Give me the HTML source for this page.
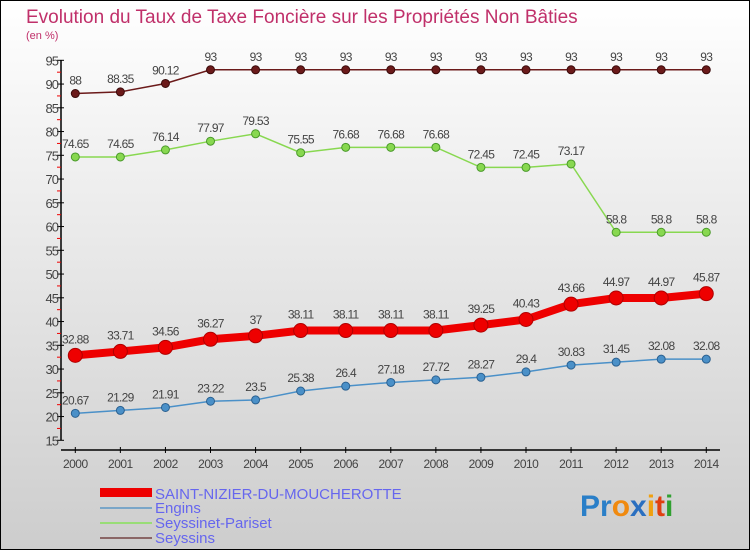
<!DOCTYPE html>
<html><head><meta charset="utf-8"><style>
body{margin:0}
#c{width:750px;height:550px;position:relative;overflow:hidden;font-family:"Liberation Sans",sans-serif}
</style></head><body>
<div id="c">
<svg id="s" width="750" height="550" xmlns="http://www.w3.org/2000/svg">
<defs><linearGradient id="bg" x1="0" y1="0" x2="0" y2="1"><stop offset="0" stop-color="#ffffff"/><stop offset="1" stop-color="#cdcdcd"/></linearGradient></defs>
<rect x="0.5" y="0.5" width="749" height="549" fill="url(#bg)" stroke="#000"/>
<text x="26" y="23" font-size="19" fill="#c0306a">Evolution du Taux de Taxe Foncière sur les Propriétés Non Bâties</text>
<text x="26" y="39" font-size="11" fill="#c0306a">(en %)</text>
<g id="axes"></g><g id="series"></g>
<g>
<rect x="100" y="488" width="52" height="9" fill="#ee0000"/>
<line x1="100" y1="508" x2="152" y2="508" stroke="#7aa6c8" stroke-width="2"/>
<line x1="100" y1="523" x2="152" y2="523" stroke="#99dd77" stroke-width="2"/>
<line x1="100" y1="538" x2="152" y2="538" stroke="#8a6666" stroke-width="2"/>
<text x="155" y="499" font-size="15" fill="#6666ee">SAINT-NIZIER-DU-MOUCHEROTTE</text>
<text x="155" y="513" font-size="15" fill="#6666ee">Engins</text>
<text x="155" y="528" font-size="15" fill="#6666ee">Seyssinet-Pariset</text>
<text x="155" y="543" font-size="15" fill="#6666ee">Seyssins</text>
</g>
<g font-size="30" font-weight="bold">
<text x="580" y="516"><tspan fill="#2a7fc8">Pr</tspan><tspan fill="#f08a10">o</tspan><tspan fill="#2a6fc0">x</tspan><tspan fill="#f0a010">i</tspan><tspan fill="#e04010">t</tspan><tspan fill="#30a030">i</tspan></text>
</g>
</svg>
</div>
<script>
const years=[2000,2001,2002,2003,2004,2005,2006,2007,2008,2009,2010,2011,2012,2013,2014];
const yTicks=[15,20,25,30,35,40,45,50,55,60,65,70,75,80,85,90,95];
const saint=[32.88,33.71,34.56,36.27,37,38.11,38.11,38.11,38.11,39.25,40.43,43.66,44.97,44.97,45.87];
const engins=[20.67,21.29,21.91,23.22,23.5,25.38,26.4,27.18,27.72,28.27,29.4,30.83,31.45,32.08,32.08];
const seyssinet=[74.65,74.65,76.14,77.97,79.53,75.55,76.68,76.68,76.68,72.45,72.45,73.17,58.8,58.8,58.8];
const seyssins=[88,88.35,90.12,93,93,93,93,93,93,93,93,93,93,93,93];
const NS="http://www.w3.org/2000/svg";
const X=i=>75.3+i*45.07;
const Y=v=>440.3-(v-15)*4.75;
function mk(t,a,p){const e=document.createElementNS(NS,t);for(const k in a)e.setAttribute(k,a[k]);p.appendChild(e);return e;}
const ax=document.getElementById('axes');
let l=mk('line',{x1:61,y1:Y(95),x2:61,y2:Y(15),stroke:'#000','stroke-width':1.5},ax);


l=mk('line',{x1:61,y1:450,x2:720,y2:450,stroke:'#000','stroke-width':1.5},ax);


yTicks.forEach(v=>{
 mk('line',{x1:57,y1:Y(v),x2:64,y2:Y(v),stroke:'#000'},ax);
 if(v<95) mk('line',{x1:57,y1:Y(v+2.5),x2:61,y2:Y(v+2.5),stroke:'#e00'},ax);
 const t=mk('text',{x:58,y:Y(v)+5,'font-size':13,'text-anchor':'end',fill:'#444','letter-spacing':'-1'},ax);
 t.textContent=v;
 
 
});
years.forEach((y,i)=>{
 mk('line',{x1:X(i),y1:447,x2:X(i),y2:453,stroke:'#000'},ax);
 const t=mk('text',{x:X(i),y:468,'font-size':12,'text-anchor':'middle',fill:'#444','letter-spacing':'-0.5'},ax);
 t.textContent=y;
 
 
});
const sg=document.getElementById('series');
function draw(name,vals,color,dark,w,r){
 const g=mk('g',{},sg);
 
 
 mk('polyline',{points:vals.map((v,i)=>X(i)+','+Y(v)).join(' '),fill:'none',stroke:color,'stroke-width':w},g);
 vals.forEach((v,i)=>{
  const c=mk('circle',{cx:X(i),cy:Y(v),r:r,fill:color,stroke:dark,'stroke-width':1},g);
  
  
  const t=mk('text',{x:X(i),y:Y(v)-r-5,'font-size':12,'text-anchor':'middle',fill:'#444','letter-spacing':'-0.7'},g);
  t.textContent=String(v);
  
  
 });
}
draw('series-seyssins',seyssins,'#6b1a1a','#3a0a0a',1.5,4);
draw('series-seyssinet',seyssinet,'#88d850','#4a9a2a',1.5,4);
draw('series-engins',engins,'#4a90c8','#2a6090',1.5,4);
draw('series-saint-nizier',saint,'#ee0000','#b00000',8,7);
</script>
</body></html>
